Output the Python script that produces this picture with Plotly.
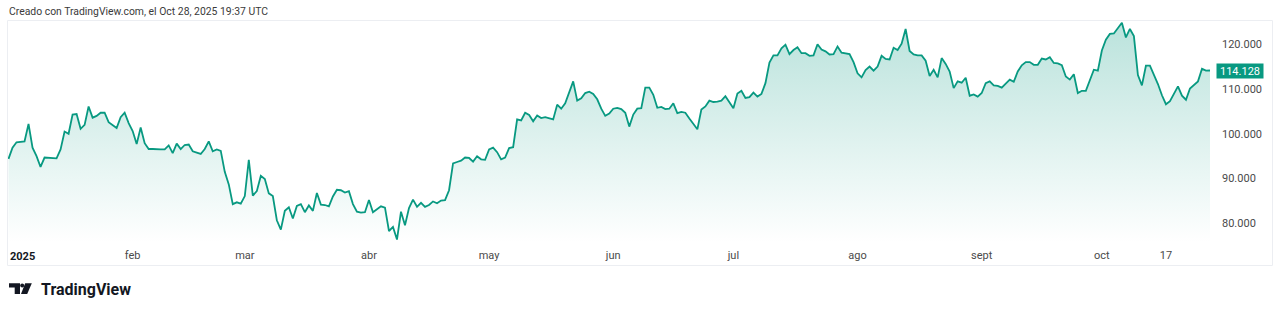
import pandas as pd
import plotly.graph_objects as go

# ---------------- data ----------------
dates = pd.date_range("2025-01-01", "2025-10-28", freq="D")

jan = [94.4, 96.9, 98.1, 98.2, 98.3, 102.2, 96.9, 95.0, 92.6, 94.7, 94.6, 94.5, 94.5, 96.5, 100.5, 100.0,
       104.3, 104.4, 101.1, 102.0, 106.1, 103.6, 104.0, 104.7, 104.7, 102.6, 102.0, 101.3, 103.7, 104.7, 102.4]
feb = [100.6, 97.7, 101.4, 97.9, 96.6, 96.6, 96.5, 96.5, 96.5, 97.4, 95.7, 97.8, 96.6, 97.5, 97.6, 96.1,
       95.8, 95.5, 96.6, 98.3, 96.1, 96.5, 96.2, 91.5, 88.7, 84.3, 84.7, 84.4]
mar = [86.1, 94.2, 86.2, 87.2, 90.6, 89.9, 86.7, 86.1, 80.7, 78.6, 82.8, 83.6, 81.1, 83.9, 84.3, 82.5,
       84.0, 82.8, 86.8, 84.2, 84.1, 83.8, 86.0, 87.5, 87.4, 86.9, 87.2, 84.3, 82.6, 82.4, 82.5]
apr = [85.2, 82.5, 83.1, 83.8, 83.5, 78.3, 79.2, 76.4, 82.6, 79.6, 83.4, 85.3, 83.7, 84.6, 83.7, 84.1,
       84.9, 84.5, 85.1, 85.2, 87.4, 93.4, 93.7, 94.0, 94.7, 94.6, 93.8, 95.0, 94.3, 94.2]
may = [96.5, 96.9, 95.9, 94.3, 94.7, 96.8, 97.0, 103.2, 103.0, 104.7, 104.2, 102.8, 104.1, 103.5, 103.7, 103.5,
       103.2, 106.5, 105.6, 106.8, 109.5, 111.7, 107.4, 107.9, 109.1, 109.4, 108.9, 107.7, 105.6, 104.0, 104.5]
jun = [105.6, 105.8, 105.5, 104.7, 101.6, 104.3, 105.6, 105.7, 110.3, 110.3, 108.7, 105.8, 106.0, 105.5, 105.6,
       106.8, 104.6, 104.9, 104.7, 103.4, 102.3, 101.0, 105.4, 106.1, 107.4, 107.1, 107.2, 107.4, 108.4, 107.1]
jul = [105.7, 109.0, 109.6, 108.0, 108.2, 109.2, 108.3, 108.9, 111.3, 115.9, 117.5, 117.5, 119.1, 119.9, 117.8,
       118.7, 119.3, 118.0, 118.0, 117.4, 117.5, 120.0, 118.8, 118.4, 117.7, 117.8, 119.5, 118.1, 117.9, 117.8, 116.0]
aug = [113.5, 112.6, 114.2, 115.0, 114.1, 115.0, 117.4, 116.7, 116.6, 119.2, 118.7, 120.1, 123.4, 118.5, 117.7,
       117.5, 117.5, 116.3, 112.9, 114.3, 112.6, 116.9, 115.6, 113.9, 110.2, 111.7, 111.4, 112.5, 108.5, 108.8, 108.3]
sep = [109.1, 111.3, 111.7, 110.8, 110.7, 110.3, 111.2, 112.1, 111.6, 113.9, 115.3, 116.0, 116.0, 115.4, 115.4,
       116.8, 116.6, 117.1, 115.8, 115.7, 115.3, 112.8, 112.1, 113.3, 109.1, 109.6, 109.6, 112.1, 114.3, 114.1]
oct_ = [118.6, 121.0, 122.3, 122.4, 123.6, 124.8, 121.5, 123.4, 121.8, 113.1, 110.8, 115.2, 115.2, 113.2,
        111.1, 108.6, 106.6, 107.3, 108.8, 110.6, 108.5, 107.6, 110.1, 111.0, 111.7, 114.5, 114.1, 114.128]

price_k = jan + feb + mar + apr + may + jun + jul + aug + sep + oct_
prices = [round(v * 1000) for v in price_k]

x_tick_vals = ["2025-02-01", "2025-03-01", "2025-04-01", "2025-05-01", "2025-06-01",
               "2025-07-01", "2025-08-01", "2025-09-01", "2025-10-01", "2025-10-17"]
x_tick_text = ["feb", "mar", "abr", "may", "jun", "jul", "ago", "sept", "oct", "17"]
y_tick_vals = [80000, 90000, 100000, 110000, 120000]
y_tick_text = ["80.000", "90.000", "100.000", "110.000", "120.000"]

title_text = "Creado con TradingView.com, el Oct 28, 2025 19:37 UTC"
last_label = f"{prices[-1]:,}".replace(",", ".")

# ---------------- styling / layout ----------------
GREEN = "#089981"
FONT = "Roboto"
W, H = 1280, 312
L, R, T, B = 8, 68, 21, 69
PW, PH = W - L - R, H - T - B
Y_RANGE = [75622, 125178]
X_RANGE = ["2024-12-31 21:00", "2025-10-28 12:00"]


def px(x):
    return (x - L) / PW


def py(y):
    return (H - B - y) / PH


fig = go.Figure()
fig.add_trace(go.Scatter(
    x=dates, y=prices, mode="lines",
    line=dict(color=GREEN, width=1.8),
    fill="tozeroy",
    fillgradient=dict(type="vertical",
                      colorscale=[[0, "rgba(8,153,129,0.0)"], [1, "rgba(8,153,129,0.28)"]],
                      start=Y_RANGE[0], stop=125000),
    hoverinfo="skip", showlegend=False,
))

shapes = [
    # light frame around chart
    dict(type="rect", xref="paper", yref="paper", x0=px(7.5), x1=px(1272.5), y0=py(265.5), y1=py(20.5),
         line=dict(color="#eceef2", width=1), fillcolor="rgba(0,0,0,0)", layer="below"),
    # TradingView logo icon
    dict(type="path", xref="paper", yref="paper",
         path=f"M {px(9)} {py(283.3)} L {px(20)} {py(283.3)} L {px(20)} {py(294)} L {px(14.7)} {py(294)} "
              f"L {px(14.7)} {py(287.5)} L {px(9)} {py(287.5)} Z",
         fillcolor="#131722", line=dict(width=0)),
    dict(type="circle", xref="paper", yref="paper", x0=px(20.2), x1=px(24.2), y0=py(287.4), y1=py(283.4),
         fillcolor="#131722", line=dict(width=0)),
    dict(type="path", xref="paper", yref="paper",
         path=f"M {px(25.2)} {py(283.3)} L {px(31.8)} {py(283.3)} L {px(27.2)} {py(294)} L {px(21.0)} {py(294)} Z",
         fillcolor="#131722", line=dict(width=0)),
]

annotations = [
    dict(text=title_text, xref="paper", yref="paper", x=px(7), y=py(12), xanchor="left", yanchor="middle",
         showarrow=False, font=dict(family=FONT, size=10.4, color="#3a3a3a")),
    dict(text="<b>2025</b>", xref="x", yref="paper", x="2025-01-01", y=py(256), xanchor="left",
         yanchor="middle", xshift=-1, showarrow=False, font=dict(family=FONT, size=11, color="#131722")),
    dict(text="TradingView", xref="paper", yref="paper", x=px(39), y=py(289.5), xanchor="left",
         yanchor="middle", showarrow=False, font=dict(family=FONT, size=16, color="#131722", weight="bold")),
    dict(text=last_label, xref="paper", yref="y", x=1, y=prices[-1], xanchor="left", yanchor="middle",
         xshift=4, showarrow=False, bgcolor=GREEN, borderpad=1, width=44, height=12,
         font=dict(family=FONT, size=11, color="white")),
]

fig.update_layout(
    width=W, height=H,
    margin=dict(l=L, r=R, t=T, b=B, pad=0),
    paper_bgcolor="white", plot_bgcolor="white",
    separators=",.",
    shapes=shapes, annotations=annotations,
    xaxis=dict(type="date", range=X_RANGE, showgrid=False, zeroline=False, showline=False,
               tickmode="array", tickvals=x_tick_vals, ticktext=x_tick_text, ticks="",
               ticklabelstandoff=4,
               tickfont=dict(family=FONT, size=11, color="#4a4a4a"), fixedrange=True),
    yaxis=dict(range=Y_RANGE, side="right", showgrid=False, zeroline=False, showline=False,
               tickmode="array", tickvals=y_tick_vals, ticktext=y_tick_text, ticks="",
               ticklabelstandoff=9,
               tickfont=dict(family=FONT, size=11, color="#4a4a4a"), fixedrange=True),
)

fig.write_html("out.html", config={"displayModeBar": False})
